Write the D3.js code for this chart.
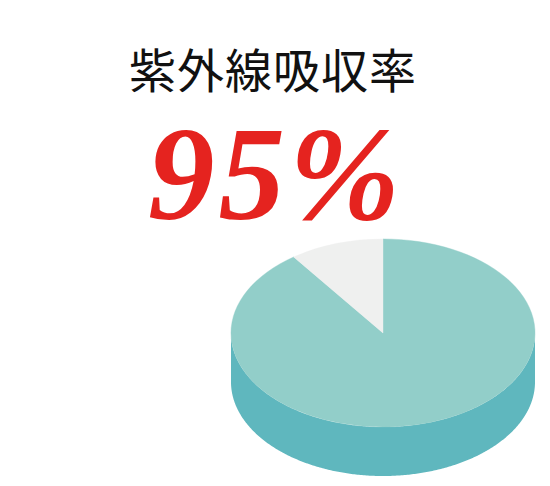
<!DOCTYPE html>
<html>
<head>
<meta charset="utf-8">
<script src="https://cdn.jsdelivr.net/npm/d3@7"></script>
<style>
  html, body { margin: 0; padding: 0; background: #fff; }
</style>
</head>
<body>
<div id="chart"></div>
<script>
// Data
var title = '紫外線吸収率';
var headline = '95%';
var sliceNames = ['吸収', 'その他'];
var sliceValues = [90, 10];
var topColors = ['#92cec9', '#eff0ef'];
var sideColors = ['#5fb7be', '#d5d8d7'];

var width = 550, height = 486;
var cx = 383, cy = 333, rx = 152, ry = 94, depth = 49;

var svg = d3.select('#chart').append('svg')
  .attr('width', width)
  .attr('height', height);

// title
svg.append('text')
  .attr('x', 273)
  .attr('y', 88)
  .attr('text-anchor', 'middle')
  .attr('font-family', '"Noto Sans CJK JP", sans-serif')
  .attr('font-size', 47)
  .attr('letter-spacing', 1)
  .attr('fill', '#111')
  .text(title);

// big number
svg.append('text')
  .attr('x', 276)
  .attr('y', 219)
  .attr('text-anchor', 'middle')
  .attr('font-family', '"Liberation Serif", serif')
  .attr('font-style', 'italic')
  .attr('font-weight', 'bold')
  .attr('font-size', 133)
  .attr('letter-spacing', 4)
  .attr('fill', '#e5231f')
  .text(headline);

var pie = d3.pie().sort(null).value(d => d)(sliceValues);

// point on ellipse for an angle (0 = top, clockwise)
function pt(a, dy) {
  return [cx + rx * Math.sin(a), cy - ry * Math.cos(a) + (dy || 0)];
}

// side walls: only the front half is visible
var side = svg.append('g').attr('class', 'side');
pie.forEach(function (d, i) {
  var a0 = Math.max(d.startAngle, Math.PI / 2);
  var a1 = Math.min(d.endAngle, Math.PI * 3 / 2);
  if (a1 <= a0) return;
  var steps = d3.range(a0, a1, 0.01).concat([a1]);
  var pts = steps.map(a => pt(a, 0))
    .concat(steps.slice().reverse().map(a => pt(a, depth)));
  side.append('path')
    .attr('d', d3.line()(pts) + 'Z')
    .attr('fill', sideColors[i]);
});

// top face
var topFace = svg.append('g')
  .attr('transform', 'translate(' + cx + ',' + cy + ') scale(1,' + (ry / rx) + ')');
var arc = d3.arc().innerRadius(0).outerRadius(rx);
topFace.selectAll('path')
  .data(pie)
  .enter().append('path')
  .attr('d', arc)
  .attr('fill', (d, i) => topColors[i])
  .attr('stroke', (d, i) => topColors[i])
  .attr('stroke-width', 0.5);
</script>
</body>
</html>
